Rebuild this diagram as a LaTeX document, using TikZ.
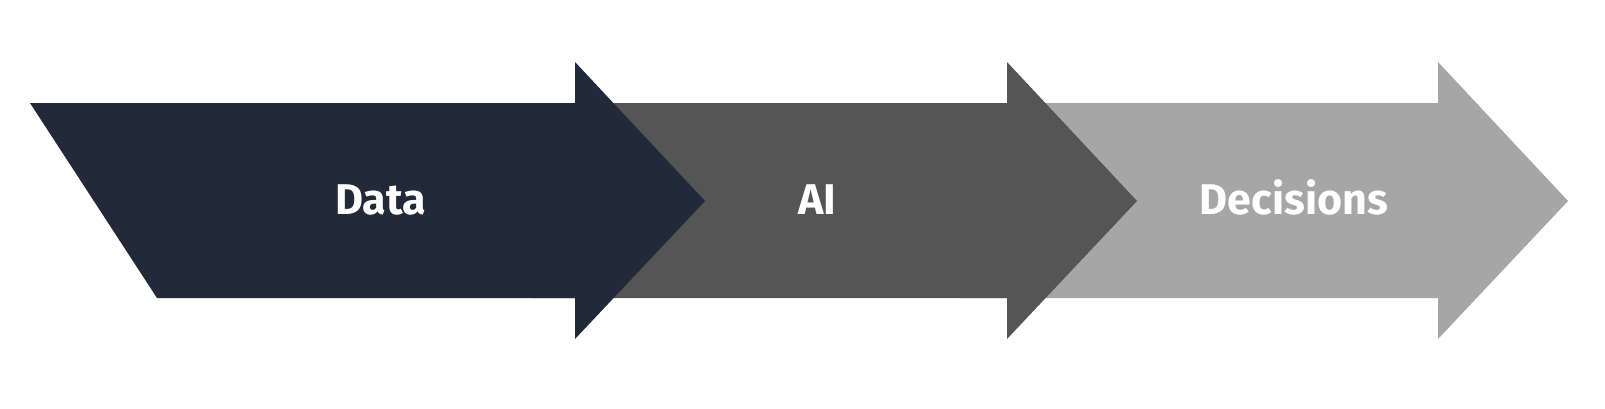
\documentclass[tikz,border=0pt]{standalone}
\usepackage{fontspec}
\setmainfont{Fira Sans}
\usepackage{tikz}
\usepackage{xcolor}
\definecolor{navy}{HTML}{212A38}
\definecolor{midgray}{HTML}{555555}
\definecolor{lightgray}{HTML}{A6A6A6}
\tikzset{steplabel/.style={text=white, font=\fontsize{43}{50}\selectfont\bfseries, inner sep=0pt, anchor=base}}

\begin{document}
\begin{tikzpicture}[x=1pt,y=-1pt]
                \useasboundingbox (0,0) rectangle (1605,408);
                \foreach \s/\c in {863/lightgray,432/midgray}
                \fill[\c] (\s+100,103) -- (\s+575,103) -- (\s+575,62) -- (\s+705,201) -- (\s+575,339) -- (\s+575,298) -- (\s+100,298) -- cycle;
                \fill[navy] (30,103) -- (575,103) -- (575,62) -- (705,201) -- (575,339) -- (575,298) -- (157,298) -- cycle;
                \node[steplabel] (data) at (380.5,214) {Data};
                \node[steplabel] (ai) at (817,214) {AI};
                \node[steplabel] (decisions) at (1294,214) {Decisions};
            \end{tikzpicture}
\end{document}
